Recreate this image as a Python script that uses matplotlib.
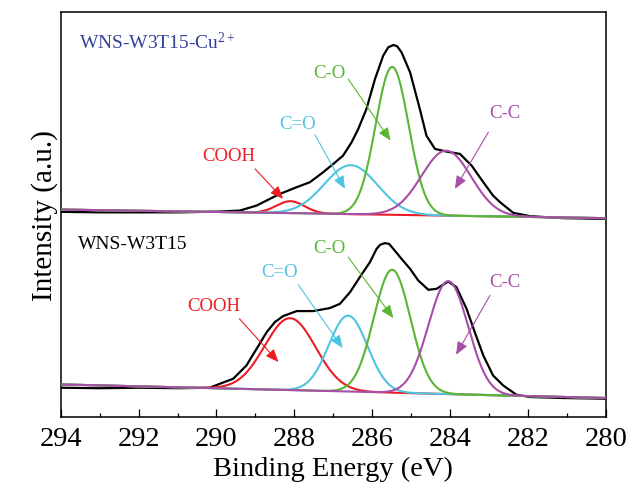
import numpy as np
import matplotlib
matplotlib.use("Agg")
import matplotlib.pyplot as plt

plt.rcParams['font.family'] = ['Liberation Serif', 'DejaVu Serif']
plt.rcParams['mathtext.fontset'] = 'custom'
plt.rcParams['mathtext.rm'] = 'Liberation Serif'
plt.rcParams['mathtext.it'] = 'Liberation Serif'

energia_cu = [294.0, 293.0, 291.96, 290.94, 289.91, 289.40, 288.97, 288.63, 288.37,
              287.94, 287.60, 287.26, 287.00, 286.75, 286.53, 286.36, 286.15, 285.93,
              285.72, 285.59, 285.46, 285.36, 285.25, 285.03, 284.78, 284.61, 284.39,
              284.09, 283.75, 283.45, 283.15, 282.90, 282.72, 282.38, 281.95, 281.10,
              280.0]
medido_cu = [35, 34.5, 34.5, 34.5, 35.3, 36.3, 41.3, 48, 53,
             59.7, 64.7, 74.7, 83, 91.3, 104.7, 118, 138, 168,
             191.3, 199.7, 202, 200.7, 194.7, 174.7, 138, 111.3, 98,
             95.3, 93, 81.3, 64.7, 51.3, 44.7, 34, 30.7, 28.7,
             28]

energia_w = [294.0, 293.0, 291.96, 290.94, 290.17, 289.91, 289.57, 289.23, 288.97,
             288.71, 288.50, 288.29, 287.94, 287.52, 287.09, 286.83, 286.57, 286.32,
             286.06, 285.89, 285.80, 285.68, 285.57, 285.46, 285.25, 285.03, 284.82,
             284.56, 284.35, 284.05, 283.84, 283.58, 283.37, 283.15, 282.90, 282.64,
             282.30, 281.95, 281.10, 280.0]
medido_w = [29, 28.5, 29, 28.5, 29, 33, 38, 51.3, 68,
            84.7, 94.7, 100.7, 105.7, 105.7, 108.7, 113, 124.7, 139.7,
            154.7, 168, 172, 173.7, 173, 168, 158, 148, 136.3,
            127, 128, 135.3, 129.7, 108, 84.7, 61.3, 41.3, 31.3,
            22, 19.7, 18.7, 18]

# Componentes do ajuste: centro (eV), altura, FWHM (eV)
componentes = ['COOH', 'C=O', 'C-O', 'C-C']
centros_cu = [288.1, 286.55, 285.49, 284.1]
alturas_cu = [12, 49, 148, 65]
fwhm_cu = [0.85, 1.6, 1.0, 1.5]
fundo_cu = (37.3, 28.7)   # fundo em 294 e 280 eV

centros_w = [288.11, 286.62, 285.49, 284.05]
alturas_w = [72, 76, 123, 113]
fwhm_w = [1.54, 1.17, 1.11, 1.2]
fundo_w = (32.3, 18.7)

desvio_cu = 170  # deslocamento vertical do espectro de cima

cores = ['#ed1c24', '#4fc4e0', '#5ab535', '#a84ea8']

fig = plt.figure(figsize=(6.27, 4.89), dpi=100)
ax = fig.add_axes([0.0968, 0.1458, 0.8697, 0.8286])

e = np.linspace(294, 280, 1400)


def desenha(en, med, centros, alturas, fwhm, fundo, desvio):
    base = fundo[0] + (fundo[1] - fundo[0]) * (294 - e) / 14.0
    ax.plot(en, np.array(med) + desvio, color='black', lw=1.6, zorder=2,
            solid_joinstyle='round')
    for c, h, w, cor in zip(centros, alturas, fwhm, cores):
        s = w / 2.3548
        ax.plot(e, base + h * np.exp(-(e - c) ** 2 / (2 * s * s)) + desvio,
                color=cor, lw=1.5, zorder=3)


desenha(energia_w, medido_w, centros_w, alturas_w, fwhm_w, fundo_w, 0)
desenha(energia_cu, medido_cu, centros_cu, alturas_cu, fwhm_cu, fundo_cu, desvio_cu)

ax.set_xlim(294, 280)
ax.set_ylim(0, 405.5)
ax.set_yticks([])
ax.set_xticks(np.arange(294, 279, -2))
ax.set_xticks(np.arange(293, 280, -2), minor=True)
ax.tick_params(axis='x', which='major', direction='in', length=6, width=0.9,
               labelsize=20.5, pad=7, top=False)
ax.tick_params(axis='x', which='minor', direction='in', length=3.2, width=0.9, top=False)
for sp in ax.spines.values():
    sp.set_linewidth(1.1)

ax.set_xlabel('Binding Energy (eV)', fontsize=20.5, labelpad=3)
ax.set_ylabel('Intensity (a.u.)', fontsize=21, labelpad=2)

# Rótulos das amostras
ax.text(293.53, 375, 'WNS-W3T15-Cu$^{2+}$', color='#33409a', fontsize=14,
        ha='left', va='center')
ax.text(293.56, 173, 'WNS-W3T15', color='black', fontsize=14, ha='left', va='center')

# Rótulos e setas das componentes
textos_cu = [(289.68, 261), (287.93, 293), (287.09, 344.7), (282.60, 304)]
setas_cu = [((289.01, 248), (288.29, 218)), ((287.47, 282), (286.70, 228)),
            ((286.62, 338), (285.53, 276.3)), ((283.02, 284.7), (283.88, 228))]
textos_w = [(290.07, 111), (288.37, 145.3), (287.09, 169.7), (282.60, 135)]
setas_w = [((289.41, 98), (288.41, 54.7)), ((287.90, 132), (286.76, 68.7)),
           ((286.62, 159.7), (285.46, 98.7)), ((282.98, 121.3), (283.85, 62))]

for textos, setas in [(textos_cu, setas_cu), (textos_w, setas_w)]:
    for nome, pos, (ini, fim), cor in zip(componentes, textos, setas, cores):
        ax.text(pos[0], pos[1], nome, color=cor, fontsize=13.5, ha='center', va='center')
        ax.annotate('', xy=fim, xytext=ini,
                    arrowprops=dict(arrowstyle='-|>,head_length=0.6,head_width=0.25',
                                    color=cor, lw=0.8, mutation_scale=13,
                                    shrinkA=0, shrinkB=0))

fig.savefig('out.png', dpi=100)
